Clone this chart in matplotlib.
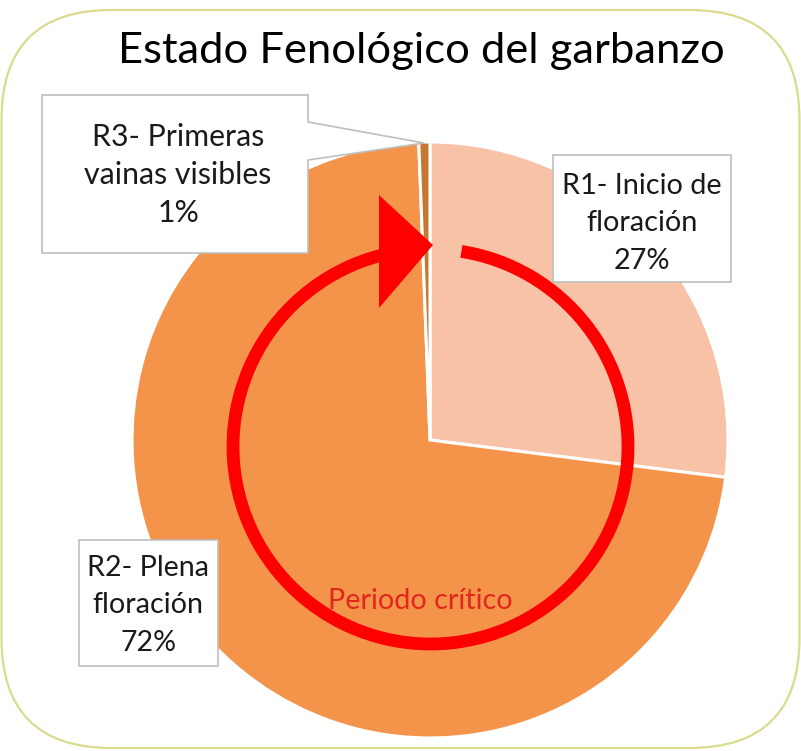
import matplotlib
matplotlib.use("Agg")
import matplotlib.pyplot as plt
from matplotlib.patches import FancyBboxPatch, Polygon, Arc

# ---- data ----
stages = ["R1- Inicio de\nfloración", "R2- Plena\nfloración", "R3- Primeras\nvainas visibles"]
shares = [27.0, 72.4, 0.6]
colors = ["#F7C2A6", "#F4944A", "#C5782F"]
title = "Estado Fenológico del garbanzo"
note = "Periodo crítico"

W, H = 801, 751
fig = plt.figure(figsize=(W / 100, H / 100), dpi=100)
ax = fig.add_axes([0, 0, 1, 1])

FONT = "Lato"

def Y(y):
    return H - y

# pie
cx, cy, R = 430, Y(440), 298
ax.pie(shares, colors=colors, startangle=90, counterclock=False,
       center=(cx, cy), radius=R, frame=True,
       wedgeprops=dict(edgecolor="white", linewidth=2.2, zorder=2))
ax.set_xlim(0, W)
ax.set_ylim(0, H)
ax.set_aspect("equal")
ax.axis("off")

# rounded border
border = FancyBboxPatch((1.5, Y(748)), 798, 738,
                        boxstyle="round,pad=0,rounding_size=110",
                        facecolor="white", edgecolor="#DADB8E", linewidth=1.6, zorder=0)
ax.add_patch(border)

# red circular arrow
rcx, rcy, rr = 430.5, Y(446.5), 197.5
arc = Arc((rcx, rcy), 2 * rr, 2 * rr, theta1=100, theta2=81,
          color="#FF0000", linewidth=9.2, zorder=5)
ax.add_patch(arc)
tri = Polygon([(379, Y(195)), (379, Y(308)), (433, Y(245))], closed=True,
              facecolor="#FF0000", edgecolor="none", zorder=6)
ax.add_patch(tri)

ax.text(420, Y(601), note, ha="center", va="center", color="#E3261C",
        fontsize=20.7, family=FONT, zorder=7)

# title
ax.text(421, Y(51), title, ha="center", va="center", color="black",
        fontsize=31.3, family=FONT, zorder=7)

box_kw = dict(facecolor="white", edgecolor="#BFBFBF", linewidth=1.2, zorder=8)

def pct(v):
    return f"{v:.0f}%"

# R3 callout (with pointer)
r3 = Polygon([(42, Y(95)), (308, Y(95)), (308, Y(122)), (424, Y(143)),
              (308, Y(160)), (308, Y(253)), (42, Y(253))], closed=True, **box_kw)
ax.add_patch(r3)
# R1 box
ax.add_patch(Polygon([(553, Y(155)), (731, Y(155)), (731, Y(282)), (553, Y(282))], closed=True, **box_kw))
# R2 box
ax.add_patch(Polygon([(79, Y(540)), (218, Y(540)), (218, Y(666)), (79, Y(666))], closed=True, **box_kw))

def label(x, ys, text, value, fs):
    lines = text.split("\n") + [pct(value)]
    for yy, line in zip(ys, lines):
        ax.text(x, Y(yy), line, ha="center", va="center", color="#1a1a1a",
                fontsize=fs, family=FONT, zorder=9)

label(642, [186, 223, 261], stages[0], shares[0], 20.8)
label(148, [568, 605, 643], stages[1], shares[1], 20.6)
label(178, [137, 175, 213], stages[2], shares[2], 21.8)

fig.savefig("out.png", dpi=100)
